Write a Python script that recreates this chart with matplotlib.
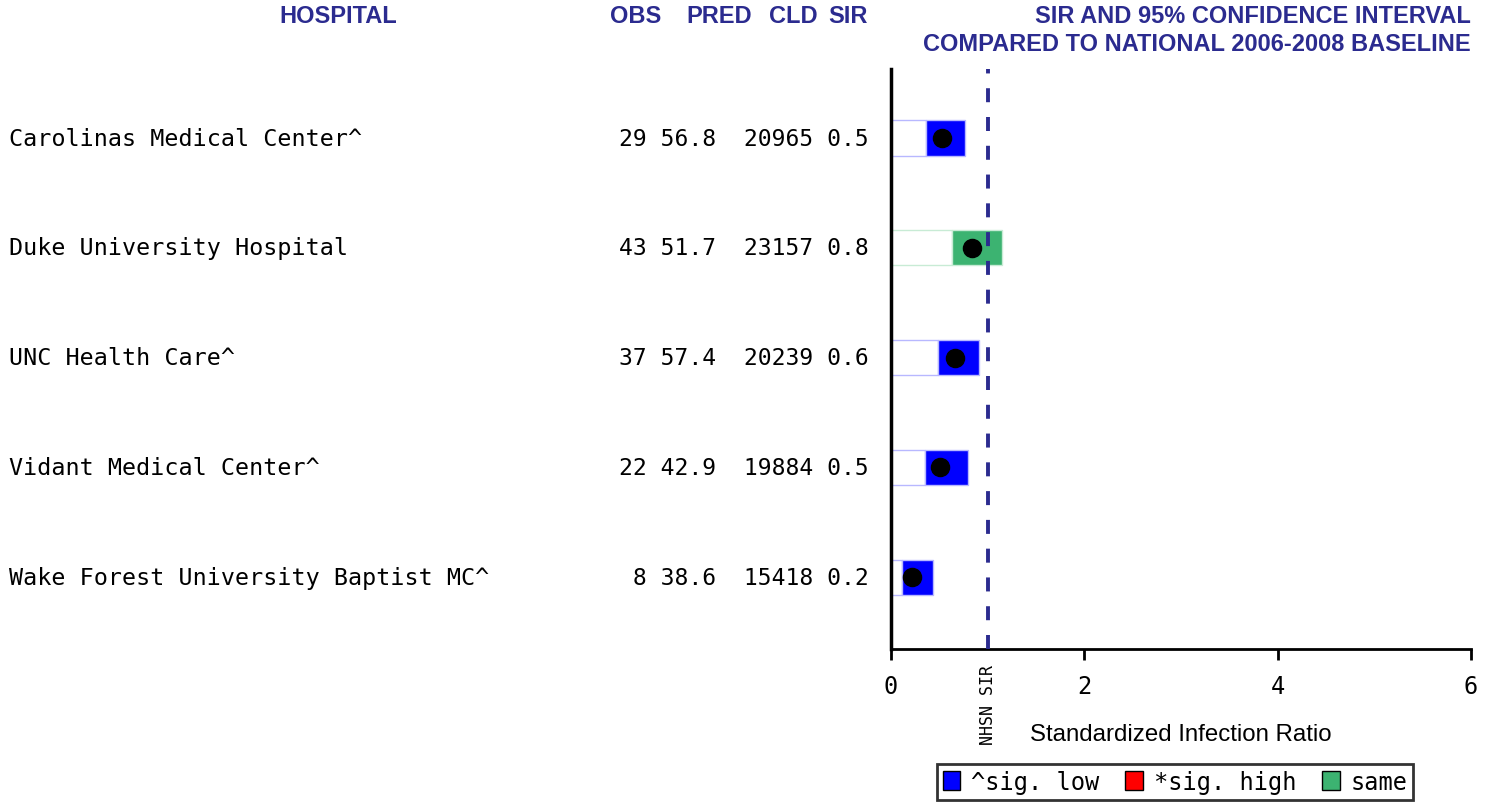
import matplotlib
matplotlib.use("Agg")
import matplotlib.pyplot as plt
from matplotlib.patches import Patch
from matplotlib.transforms import blended_transform_factory

hospitals = [
    "Carolinas Medical Center^",
    "Duke University Hospital",
    "UNC Health Care^",
    "Vidant Medical Center^",
    "Wake Forest University Baptist MC^",
]
obs = [29, 43, 37, 22, 8]
pred = [56.8, 51.7, 57.4, 42.9, 38.6]
cld = [20965, 23157, 20239, 19884, 15418]
sir = [0.5, 0.8, 0.6, 0.5, 0.2]
sir_exact = [0.53, 0.84, 0.66, 0.51, 0.22]
ci_low = [0.36, 0.63, 0.49, 0.35, 0.11]
ci_high = [0.77, 1.15, 0.91, 0.80, 0.43]
status = ["low", "same", "low", "low", "low"]

colors = {"low": "#0000FF", "high": "#FF0000", "same": "#3CB371"}
edge_light = {"low": "#B8B8FF", "high": "#FFB8B8", "same": "#C8EBD5"}
navy = "#2B2B8F"
mono = "DejaVu Sans Mono"
sans = "Liberation Sans"

fig = plt.figure(figsize=(14.95, 8.03), dpi=100)
ax = fig.add_axes([0.596, 0.191, 0.388, 0.722])

y = list(range(len(hospitals)))
widths = [h - l for l, h in zip(ci_low, ci_high)]
for i in y:
    ax.barh(i, ci_low[i], height=0.32, color="white",
            edgecolor=edge_light[status[i]], linewidth=1)
    ax.barh(i, widths[i], left=ci_low[i], height=0.32,
            color=colors[status[i]], edgecolor=edge_light[status[i]], linewidth=1)
ax.scatter(sir_exact, y, s=170, color="black", zorder=5)

ax.axvline(1.0, color=navy, linestyle=(0, (3.6, 3.8)), linewidth=2.8, zorder=4)

ax.set_xlim(0, 6)
ax.set_ylim(4.65, -0.63)
ax.set_xticks([0, 2, 4, 6])
ax.tick_params(axis="x", direction="out", length=8, width=2,
               labelsize=17, pad=10)
for lab in ax.get_xticklabels():
    lab.set_fontfamily(mono)
ax.set_yticks([])
for s in ["top", "right"]:
    ax.spines[s].set_visible(False)
ax.spines["left"].set_linewidth(2.5)
ax.spines["bottom"].set_linewidth(2)
ax.set_xlabel("Standardized Infection Ratio", fontsize=17.3,
              family=sans, labelpad=18)

ax.text(1.0, -0.026, "NHSN SIR", transform=blended_transform_factory(ax.transData, ax.transAxes),
        rotation=90, ha="center", va="top", fontsize=12, family=mono)

tr = blended_transform_factory(fig.transFigure, ax.transData)
for i, name in enumerate(hospitals):
    ax.text(0.006, i, name, transform=tr, ha="left", va="center", fontsize=16.8, family=mono)
    row = f"{obs[i]:>2} {pred[i]:4.1f}  {cld[i]:>5} {sir[i]:.1f}"
    ax.text(0.581, i, row, transform=tr, ha="right", va="center", fontsize=16.6, family=mono)

hdr = dict(color=navy, fontsize=17, fontweight="bold", family=sans, va="center")
fig.text(0.226, 0.979, "HOSPITAL", ha="center", **hdr)
fig.text(0.4254, 0.979, "OBS", ha="center", **hdr)
fig.text(0.4809, 0.979, "PRED", ha="center", **hdr)
fig.text(0.5472, 0.979, "CLD", ha="right", **hdr)
fig.text(0.5806, 0.979, "SIR", ha="right", **hdr)
fig.text(0.984, 0.979, "SIR AND 95% CONFIDENCE INTERVAL", ha="right", **hdr)
fig.text(0.984, 0.944, "COMPARED TO NATIONAL 2006-2008 BASELINE", ha="right", **hdr)

handles = [Patch(facecolor=colors["low"], edgecolor="black", label="^sig. low"),
           Patch(facecolor=colors["high"], edgecolor="black", label="*sig. high"),
           Patch(facecolor=colors["same"], edgecolor="black", label="same")]
leg = fig.legend(handles=handles, loc="lower center", bbox_to_anchor=(0.786, 0.003), ncol=3,
                 prop={"family": mono, "size": 17}, frameon=True, fancybox=False,
                 handlelength=0.75, handleheight=0.85, handletextpad=0.45,
                 columnspacing=1.1, borderpad=0.25, borderaxespad=0)
leg.get_frame().set_edgecolor("black")
leg.get_frame().set_linewidth(2)

fig.savefig("out.png", dpi=100)
